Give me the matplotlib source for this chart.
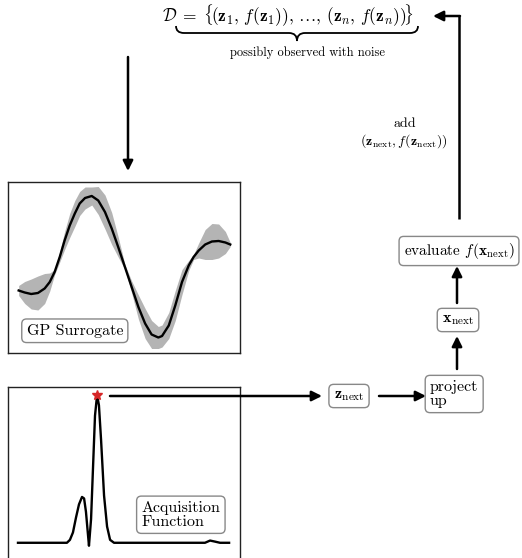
import matplotlib.pyplot as plt
from matplotlib.path import Path
from matplotlib.patches import PathPatch

plt.rcParams['mathtext.fontset'] = 'cm'
plt.rcParams['font.family'] = ['cmr10', 'DejaVu Serif']
plt.rcParams['axes.formatter.use_mathtext'] = True

# GP surrogate: posterior mean and std
gp_x = [0.46, 0.72, 1.00, 1.29, 1.58, 1.80, 2.01, 2.23, 2.44, 2.66, 2.88, 3.09,
        3.32, 3.61, 3.89, 4.18, 4.47, 4.75, 5.04, 5.33, 5.62, 5.91, 6.19, 6.48,
        6.64, 6.93, 7.21, 7.50, 7.79, 8.00, 8.22, 8.50, 8.79, 9.08, 9.37, 9.58]
gp_mean = [-0.31, -0.35, -0.38, -0.36, -0.27, -0.14, 0.06, 0.36, 0.69, 0.99, 1.23, 1.43,
           1.54, 1.58, 1.49, 1.26, 0.93, 0.56, 0.16, -0.24, -0.64, -0.97, -1.19, -1.25,
           -1.22, -1.01, -0.61, -0.14, 0.19, 0.36, 0.49, 0.61, 0.67, 0.68, 0.65, 0.61]
gp_std = [0.10, 0.22, 0.30, 0.34, 0.30, 0.18, 0.05, 0.10, 0.18, 0.24, 0.26, 0.24,
          0.22, 0.18, 0.28, 0.34, 0.32, 0.20, 0.05, 0.12, 0.24, 0.30, 0.28, 0.22,
          0.22, 0.26, 0.30, 0.25, 0.10, 0.05, 0.15, 0.30, 0.36, 0.34, 0.22, 0.04]

# acquisition function values
acq_x = [0.43, 2.54, 2.67, 2.80, 2.93, 3.06, 3.19, 3.28, 3.36, 3.45, 3.49, 3.58,
         3.66, 3.75, 3.84, 3.92, 4.01, 4.14, 4.27, 4.40, 4.57, 8.49, 8.71, 8.92,
         9.14, 9.53]
acq_y = [0.0, 0.0, 0.02, 0.07, 0.17, 0.26, 0.31, 0.30, 0.21, 0.05, -0.02, 0.16,
         0.49, 0.86, 1.0, 0.93, 0.70, 0.32, 0.11, 0.02, 0.0, 0.0, 0.015, 0.008,
         0.0, 0.0]

W, H = 522, 558
fig = plt.figure(figsize=(W / 100, H / 100), dpi=100)


def px_axes(x0, y0, x1, y1):
    # pixel box (top-left origin) -> figure axes
    return fig.add_axes([x0 / W, 1 - y1 / H, (x1 - x0) / W, (y1 - y0) / H])


def frame(ax):
    ax.set_xticks([])
    ax.set_yticks([])
    for s in ax.spines.values():
        s.set_color('#222222')
        s.set_linewidth(1.0)


box = dict(boxstyle='round,pad=0.3', fc='white', ec='#888888', lw=1.0)

# GP panel
ax_gp = px_axes(8, 182, 240, 353)
lo = [m - s for m, s in zip(gp_mean, gp_std)]
hi = [m + s for m, s in zip(gp_mean, gp_std)]
ax_gp.fill_between(gp_x, lo, hi, color='#b4b4b4', lw=0)
ax_gp.plot(gp_x, gp_mean, color='black', lw=1.7, solid_joinstyle='round')
ax_gp.set_xlim(0, 10)
ax_gp.set_ylim(-1.56, 1.86)
ax_gp.text(0.08, 0.13, 'GP Surrogate', transform=ax_gp.transAxes, fontsize=11.5,
           ha='left', va='center', bbox=box)
frame(ax_gp)

# acquisition panel
ax_acq = px_axes(8, 387, 240, 562)
ax_acq.plot(acq_x, acq_y, color='black', lw=1.7, solid_joinstyle='round')
i_best = acq_y.index(max(acq_y))
ax_acq.plot(acq_x[i_best], acq_y[i_best], marker='*', color='#d62728', ms=7, zorder=5)
ax_acq.set_xlim(0, 10)
ax_acq.set_ylim(-0.13, 1.054)
ax_acq.text(0.575, 0.27, 'Acquisition\nFunction', transform=ax_acq.transAxes,
            fontsize=11.5, ha='left', va='center', linespacing=1.0, bbox=box)
frame(ax_acq)

# overlay in pixel coordinates for the flow diagram
ov = fig.add_axes([0, 0, 1, 1], zorder=10)
ov.set_xlim(0, W)
ov.set_ylim(H, 0)
ov.axis('off')
ov.patch.set_alpha(0)

ov.text(288, 16, r'$\mathcal{D}\;=\;\{\!(\mathbf{z}_1,\, f(\mathbf{z}_1)),\, \ldots,\,'
        r' (\mathbf{z}_n,\, f(\mathbf{z}_n))\!\}$',
        fontsize=12.5, ha='center', va='center')

# underbrace
x0, x1, yt, ym, yb = 176, 418, 26, 33, 41
xm = (x0 + x1) / 2
verts = [(x0, yt), (x0, ym), (x0 + 8, ym), (xm - 8, ym), (xm, ym), (xm, yb),
         (xm, ym), (xm + 8, ym), (x1 - 8, ym), (x1, ym), (x1, yt)]
codes = [Path.MOVETO, Path.CURVE3, Path.CURVE3, Path.LINETO, Path.CURVE3, Path.CURVE3,
         Path.CURVE3, Path.CURVE3, Path.LINETO, Path.CURVE3, Path.CURVE3]
ov.add_patch(PathPatch(Path(verts, codes), fc='none', ec='black', lw=1.3))
ov.text(307, 53, 'possibly observed with noise', fontsize=9, ha='center', va='center')

arrow = dict(arrowstyle='-|>', color='black', lw=1.8, mutation_scale=15,
             shrinkA=0, shrinkB=0)


def arr(start, tip):
    ov.annotate('', xy=tip, xytext=start, arrowprops=arrow)


arr((128, 57), (128, 171))
arr((110, 396), (322, 396))
arr((379, 396), (426, 396))
arr((457, 369), (457, 336))
arr((457, 303), (457, 266))
ov.plot([459, 459], [219, 16], color='black', lw=1.8, solid_capstyle='butt')
arr((460, 16), (433, 16))

ov.text(349, 396, r'$\mathbf{z}_{\mathrm{next}}$', fontsize=11.5, ha='center', va='center', bbox=box)
ov.text(430, 394, 'project\nup', fontsize=11.5, ha='left', va='center', linespacing=1.0, bbox=box)
ov.text(458, 320, r'$\mathbf{x}_{\mathrm{next}}$', fontsize=11.5, ha='center', va='center', bbox=box)
ov.text(459, 251, r'evaluate $f(\mathbf{x}_{\mathrm{next}})$', fontsize=11, ha='center',
        va='center', bbox=box)
ov.text(405, 124, 'add', fontsize=10, ha='center', va='center')
ov.text(404, 141, r'$(\mathbf{z}_{\mathrm{next}}, f(\mathbf{z}_{\mathrm{next}}))$', fontsize=10,
        ha='center', va='center')

fig.savefig('out.png', dpi=100)
